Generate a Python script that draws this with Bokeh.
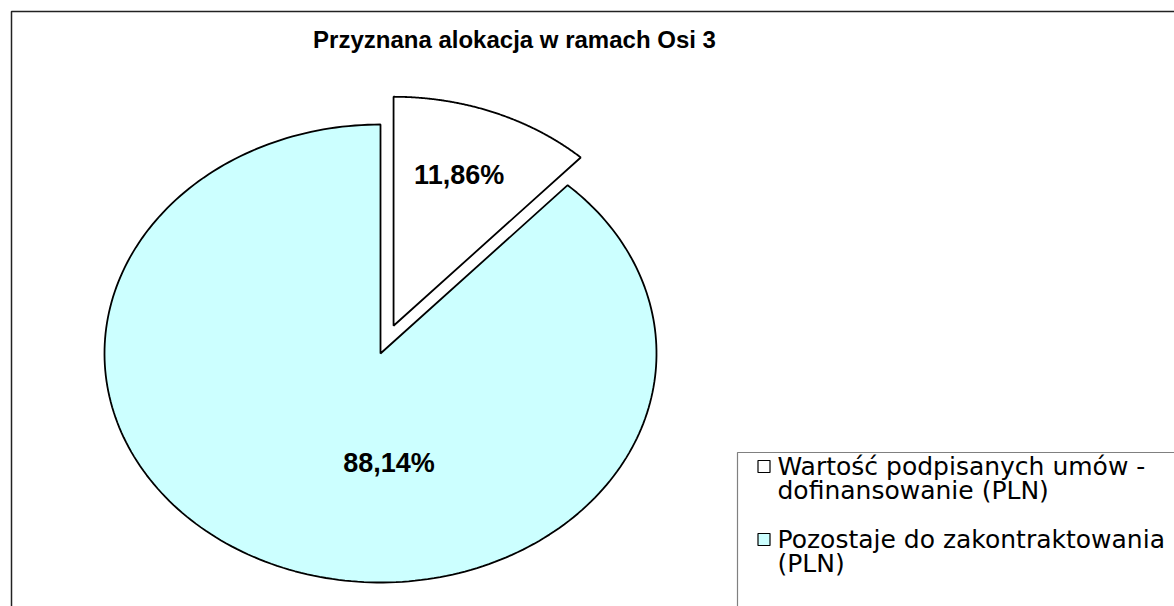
import numpy as np
from bokeh.plotting import figure
from bokeh.models import Range1d
from bokeh.core.properties import value
from bokeh.embed import file_html
from bokeh.resources import INLINE

# ---- data ----
title_text = "Przyznana alokacja w ramach Osi 3"
categories = ["Wartość podpisanych umów - dofinansowanie (PLN)",
              "Pozostaje do zakontraktowania (PLN)"]
legend_lines = [["Wartość podpisanych umów -", "dofinansowanie (PLN)"],
                ["Pozostaje do zakontraktowania", "(PLN)"]]
shares = [11.86, 88.14]
labels = ["11,86%", "88,14%"]
colors = ["#FFFFFF", "#CCFFFF"]
explode = [0.13, 0.0]

# ---- layout (screen pixel coordinates) ----
W, H = 1174, 606
CX, CY, RX, RY = 380.0, 353.0, 276.0, 229.0
label_frac = [0.70, 0.48]
label_angle_shift = [-1.5, -25.0]  # degrees

p = figure(width=W, height=H, output_backend="svg", toolbar_location=None,
           x_range=Range1d(0, W), y_range=Range1d(H, 0),
           x_axis_type=None, y_axis_type=None, min_border=0,
           outline_line_color=None, background_fill_color="white",
           border_fill_color="white")
p.grid.visible = False

# outer chart frame
p.quad(left=[11], right=[1400], top=[11], bottom=[900], fill_color=None,
       line_color="#222222", line_width=1.5)

# pie slices (clockwise from 12 o'clock)
vals = np.array(shares, dtype=float)
ends = np.cumsum(vals) / vals.sum() * 2 * np.pi
starts = np.concatenate([[0.0], ends[:-1]])
xs, ys, lx, ly = [], [], [], []
for i, (a0, a1) in enumerate(zip(starts, ends)):
    mid = (a0 + a1) / 2
    ox = CX + explode[i] * RX * np.sin(mid)
    oy = CY - explode[i] * RY * np.cos(mid)
    t = np.linspace(a0, a1, 240)
    xs.append(np.concatenate([[ox], ox + RX * np.sin(t), [ox]]))
    ys.append(np.concatenate([[oy], oy - RY * np.cos(t), [oy]]))
    la = mid + np.radians(label_angle_shift[i])
    lx.append(ox + label_frac[i] * RX * np.sin(la))
    ly.append(oy - label_frac[i] * RY * np.cos(la))

p.patches(xs=xs, ys=ys, fill_color=colors, line_color="black", line_width=1.8)

p.text(x=lx, y=ly, text=labels, text_font=value("Liberation Sans"),
       text_font_style="bold", text_font_size="27px", text_align="center",
       text_baseline="middle", text_color="black")

# title
p.text(x=[514], y=[39], text=[title_text], text_font=value("Liberation Sans"),
       text_font_style="bold", text_font_size="24px", text_align="center",
       text_baseline="middle", text_color="black")

# legend
p.quad(left=[737], right=[1400], top=[452], bottom=[900], fill_color="white",
       line_color="#808080", line_width=1.2)
sq_y = [466, 539]
p.rect(x=[763.5] * 2, y=sq_y, width=12, height=12, fill_color=colors,
       line_color="black", line_width=1.2)
tx, ty, tt = [], [], []
for i, lines in enumerate(legend_lines):
    for j, ln in enumerate(lines):
        tx.append(777)
        ty.append(sq_y[i] + 24 * j)
        tt.append(ln)
p.text(x=tx, y=ty, text=tt, text_font=value("DejaVu Sans"),
       text_font_size="25px", text_align="left", text_baseline="middle",
       text_color="black")

open("out.html", "w").write(file_html(p, INLINE))
